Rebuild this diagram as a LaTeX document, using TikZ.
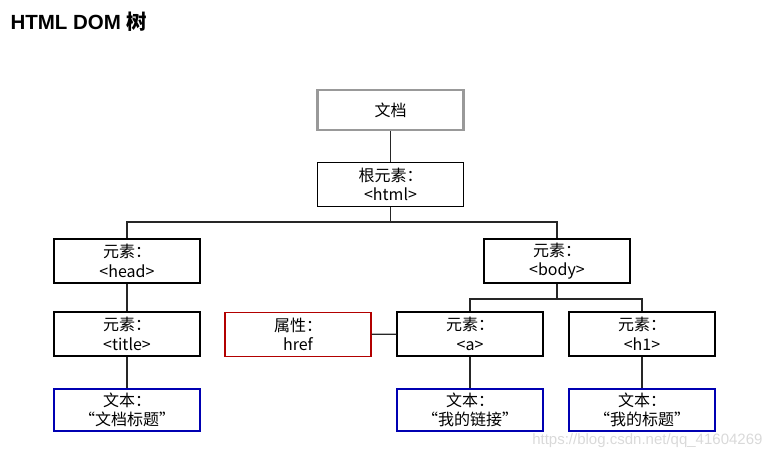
\documentclass[tikz,border=0pt]{standalone}
\usepackage{fontspec}
\setmainfont{Liberation Sans}
\newfontfamily\cjk{Noto Sans CJK SC}
\begin{document}
\begin{tikzpicture}[x=1pt,y=-1pt,
  box/.style={draw=black,line width=1.1pt,minimum width=146pt,minimum height=44pt,inner sep=0pt,align=center,font=\cjk\fontsize{16}{19.5}\selectfont},
  docbox/.style={box,draw=black!40,line width=2.6pt,minimum height=40pt},
  attrbox/.style={box,draw=red!70!black},
  textbox/.style={box,draw=blue!70!black,minimum height=42pt},
  link/.style={draw=black!85,line width=1.1pt}]
\useasboundingbox (0,0) rectangle (775,460);
\node[anchor=west,font=\bfseries\fontsize{20.5}{23}\selectfont] (title) at (7,22) {HTML DOM {\cjk\bfseries 树}};
\node[docbox] (doc) at (390.5,110) {文档};
\node[box] (root) at (390.5,184.5) {根元素：\\<html>};
\node[box] (head) at (127,261) {元素：\\<head>};
\node[box] (body) at (557,261) {元素：\\<body>};
\node[box] (ttl) at (127,334) {元素：\\<title>};
\node[attrbox] (attr) at (298,334.5) {属性：\\href};
\node[box] (a) at (470,334) {元素：\\<a>};
\node[box] (h1) at (642,334) {元素：\\<h1>};
\node[textbox] (t1) at (127,410) {文本：\\“文档标题”};
\node[textbox] (t2) at (470,410) {文本：\\“我的链接”};
\node[textbox] (t3) at (642,410) {文本：\\“我的标题”};
\coordinate (j1) at (390.5,222);
\coordinate (j2) at (557,299);
\draw[link] (doc.south) -- (root.north);
\draw[link] (root.south) -- (j1);
\draw[link] (head.north) |- (j1) -| (body.north);
\draw[link] (head) -- (ttl);
\draw[link] (ttl) -- (t1);
\draw[link] (body.south) -- (j2);
\draw[link] (a.north) |- (j2) -| (h1.north);
\draw[link] (attr) -- (a);
\draw[link] (a) -- (t2);
\draw[link] (h1) -- (t3);
\node[anchor=east,text=black!15,font=\fontsize{15}{18}\selectfont] (wm) at (766,441) {https://blog.csdn.net/qq\_41604269};
\end{tikzpicture}
\end{document}
